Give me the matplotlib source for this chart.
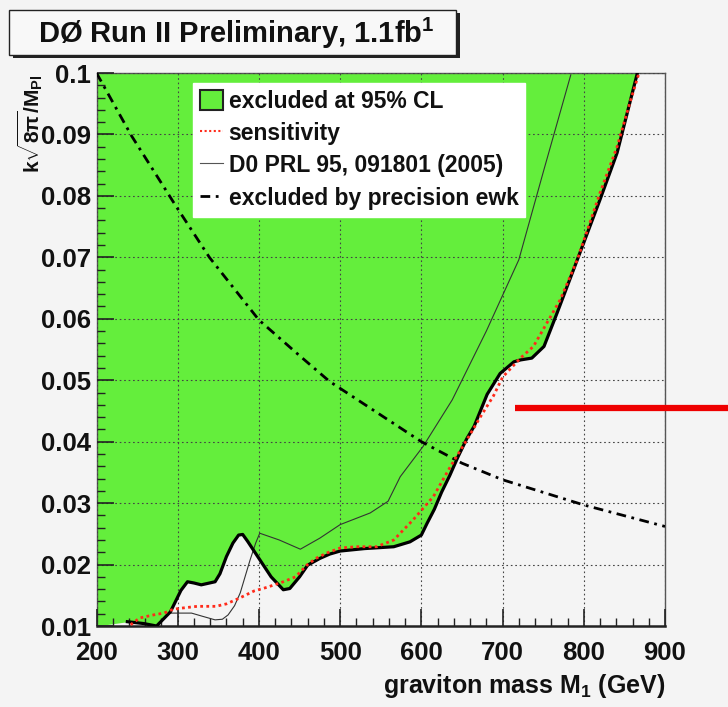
import numpy as np
import matplotlib
matplotlib.use("Agg")
import matplotlib.pyplot as plt
from matplotlib.lines import Line2D
from matplotlib.patches import Patch, Rectangle
from matplotlib.ticker import MultipleLocator, FuncFormatter

plt.rcParams['font.family'] = ['Liberation Sans', 'DejaVu Sans']
plt.rcParams['font.weight'] = 'bold'
plt.rcParams['mathtext.fontset'] = 'custom'
plt.rcParams['mathtext.rm'] = 'Liberation Sans:bold'
plt.rcParams['mathtext.it'] = 'Liberation Sans:bold'
plt.rcParams['mathtext.bf'] = 'Liberation Sans:bold'

# ---- data ----
excl_x = [238, 258, 274, 291, 304, 312, 320, 329, 346, 352, 360, 368, 375, 380, 386, 400,
          415, 430, 438, 450, 460, 475, 487, 500, 530, 566, 586, 600, 607, 616, 625, 635,
          645, 656, 665, 681, 697, 714, 722, 736, 751, 767, 792, 820, 841, 866]
excl_y = [0.0107, 0.0104, 0.0100, 0.0123, 0.0158, 0.0172, 0.0170, 0.0167, 0.0172, 0.0185,
          0.0213, 0.0235, 0.0248, 0.0249, 0.0238, 0.0210, 0.0180, 0.0159, 0.0161, 0.0180,
          0.0199, 0.0210, 0.0217, 0.0222, 0.0226, 0.0229, 0.0237, 0.0248, 0.0267, 0.0290,
          0.0318, 0.0345, 0.0375, 0.0405, 0.0425, 0.0477, 0.0511, 0.0530, 0.0533, 0.0536,
          0.0555, 0.0609, 0.0696, 0.0794, 0.0870, 0.1000]

sens_x = [242, 253, 270, 283, 294, 304, 324, 347, 360, 377, 394, 410, 430, 445, 459, 470,
          484, 500, 520, 545, 566, 590, 615, 636, 656, 673, 689, 700, 722, 738, 771, 792,
          820, 841, 858, 868]
sens_y = [0.0102, 0.0113, 0.0118, 0.0121, 0.0127, 0.0129, 0.0132, 0.0132, 0.0136, 0.0146,
          0.0157, 0.0163, 0.0172, 0.0180, 0.0199, 0.0210, 0.0219, 0.0227, 0.0229, 0.0229,
          0.0240, 0.0273, 0.0311, 0.0360, 0.0403, 0.0441, 0.0475, 0.0505, 0.0536, 0.0555,
          0.0631, 0.0696, 0.0805, 0.0880, 0.0957, 0.1000]

prl_x = [290, 317, 330, 346, 355, 362, 370, 377, 389, 396, 401, 425, 451, 475, 500, 537,
         559, 574, 602, 638, 680, 720, 751, 784]
prl_y = [0.0121, 0.0121, 0.0116, 0.0110, 0.0111, 0.0118, 0.0133, 0.0154, 0.0207, 0.0235,
         0.0251, 0.0240, 0.0225, 0.0243, 0.0265, 0.0284, 0.0303, 0.0343, 0.0392, 0.0468,
         0.0580, 0.0696, 0.0843, 0.0997]

ewk_x = [200, 243, 298, 339, 400, 450, 487, 600, 650, 700, 800, 900]
ewk_y = [0.1000, 0.0898, 0.0783, 0.0700, 0.0598, 0.0540, 0.0498, 0.0400, 0.0365, 0.0338,
         0.0297, 0.0262]

legend_labels = ["excluded at 95% CL", "sensitivity", "D0 PRL 95, 091801 (2005)",
                 "excluded by precision ewk"]
x_ticks = [200, 300, 400, 500, 600, 700, 800, 900]
y_ticks = [0.01, 0.02, 0.03, 0.04, 0.05, 0.06, 0.07, 0.08, 0.09, 0.1]

GREEN = '#64ee3c'
BG = '#f4f4f4'

fig = plt.figure(figsize=(7.28, 7.07), dpi=100, facecolor=BG)
ax = fig.add_axes([96.5 / 728, 1 - 626 / 707, 568.5 / 728, 553 / 707])
ax.set_facecolor(BG)

fx = np.concatenate([[200.0], excl_x])
fy = np.concatenate([[0.01], excl_y])
ax.fill_between(fx, fy, 0.1, color=GREEN, lw=0, zorder=1)

ax.plot(prl_x, prl_y, color='#333333', lw=0.8, zorder=3)
ax.plot(ewk_x, ewk_y, color='black', lw=2.0, dashes=(3.5, 2, 1, 2), zorder=3)
ax.plot(excl_x, excl_y, color='black', lw=2.3, zorder=4, solid_joinstyle='round')
ax.plot(sens_x, sens_y, color='#ff2a1a', lw=2.0, linestyle=(0, (1, 1.2)), zorder=5)

ax.set_xlim(200, 900)
ax.set_ylim(0.01, 0.1)
ax.set_xticks(x_ticks)
ax.set_yticks(y_ticks)
ax.xaxis.set_minor_locator(MultipleLocator(20))
ax.yaxis.set_minor_locator(MultipleLocator(0.002))
ax.yaxis.set_major_formatter(FuncFormatter(lambda v, p: '%g' % round(v, 3)))
ax.set_axisbelow(False)
ax.grid(True, which='major', color='#444444', linestyle=(0, (1.5, 2.5)), linewidth=0.8)
ax.tick_params(which='both', direction='in', top=False, right=False, colors='#222222')
ax.tick_params(which='major', length=12, width=1.2, labelsize=18.5)
ax.tick_params(which='minor', length=6, width=1.0)
ax.tick_params(axis='x', pad=11)
ax.tick_params(axis='y', pad=4)
for lab in ax.get_xticklabels() + ax.get_yticklabels():
    lab.set_fontweight('bold')
    lab.set_color('#111111')
for s in ['top', 'right', 'left']:
    ax.spines[s].set_color('#555555')
    ax.spines[s].set_linewidth(1.0)
ax.spines['bottom'].set_color('#222222')
ax.spines['bottom'].set_linewidth(1.8)

handles = [Patch(facecolor=GREEN, edgecolor='#222222', lw=1.5),
           Line2D([], [], color='#ff2a1a', lw=1.5, linestyle=(0, (1, 1.2))),
           Line2D([], [], color='#555555', lw=0.8),
           Line2D([], [], color='black', lw=2.0, dashes=(3.5, 2, 1, 2))]
leg = ax.legend(handles, legend_labels, loc='upper left', bbox_to_anchor=(0.17, 0.982),
                borderaxespad=0, frameon=True, fancybox=False, facecolor='white',
                edgecolor='white', framealpha=1, handlelength=1.0, handleheight=1.0,
                handletextpad=0.25, borderpad=0.3, labelspacing=0.4,
                prop={'family': 'Liberation Sans', 'weight': 'bold', 'size': 16.5})
leg.set_zorder(6)
for t in leg.get_texts():
    t.set_color('#111111')

fig.text(30 / 728, 1 - 75 / 707, r'$k\sqrt{8\pi}/M_{Pl}$', rotation=90, ha='center', va='top',
         fontsize=15, color='#111111')
fig.text(665 / 728, 1 - 686 / 707, r'graviton mass M$_{\mathbf{1}}$ (GeV)', ha='right',
         va='center', fontsize=18, fontweight='bold', color='#111111')

# title box with shadow
fig.add_artist(Rectangle((13 / 728, 1 - 58 / 707), 447 / 728, 45 / 707, transform=fig.transFigure,
                         facecolor='#222222', edgecolor='none', zorder=8))
fig.add_artist(Rectangle((9 / 728, 1 - 55 / 707), 447 / 728, 45 / 707, transform=fig.transFigure,
                         facecolor='#f8f8f8', edgecolor='#222222', lw=1.0, zorder=9))
fig.text(236 / 728, 1 - 33 / 707, r'DØ Run II Preliminary, 1.1fb$^{\mathbf{1}}$', ha='center',
         va='center', fontsize=21, fontweight='bold', color='#111111', zorder=10)

fig.add_artist(Line2D([515 / 728, 1.0], [1 - 408 / 707, 1 - 408 / 707], transform=fig.transFigure,
                      color='#ee0000', lw=4.5, solid_capstyle='butt', zorder=10))

fig.savefig('out.png', dpi=100, facecolor=BG)
